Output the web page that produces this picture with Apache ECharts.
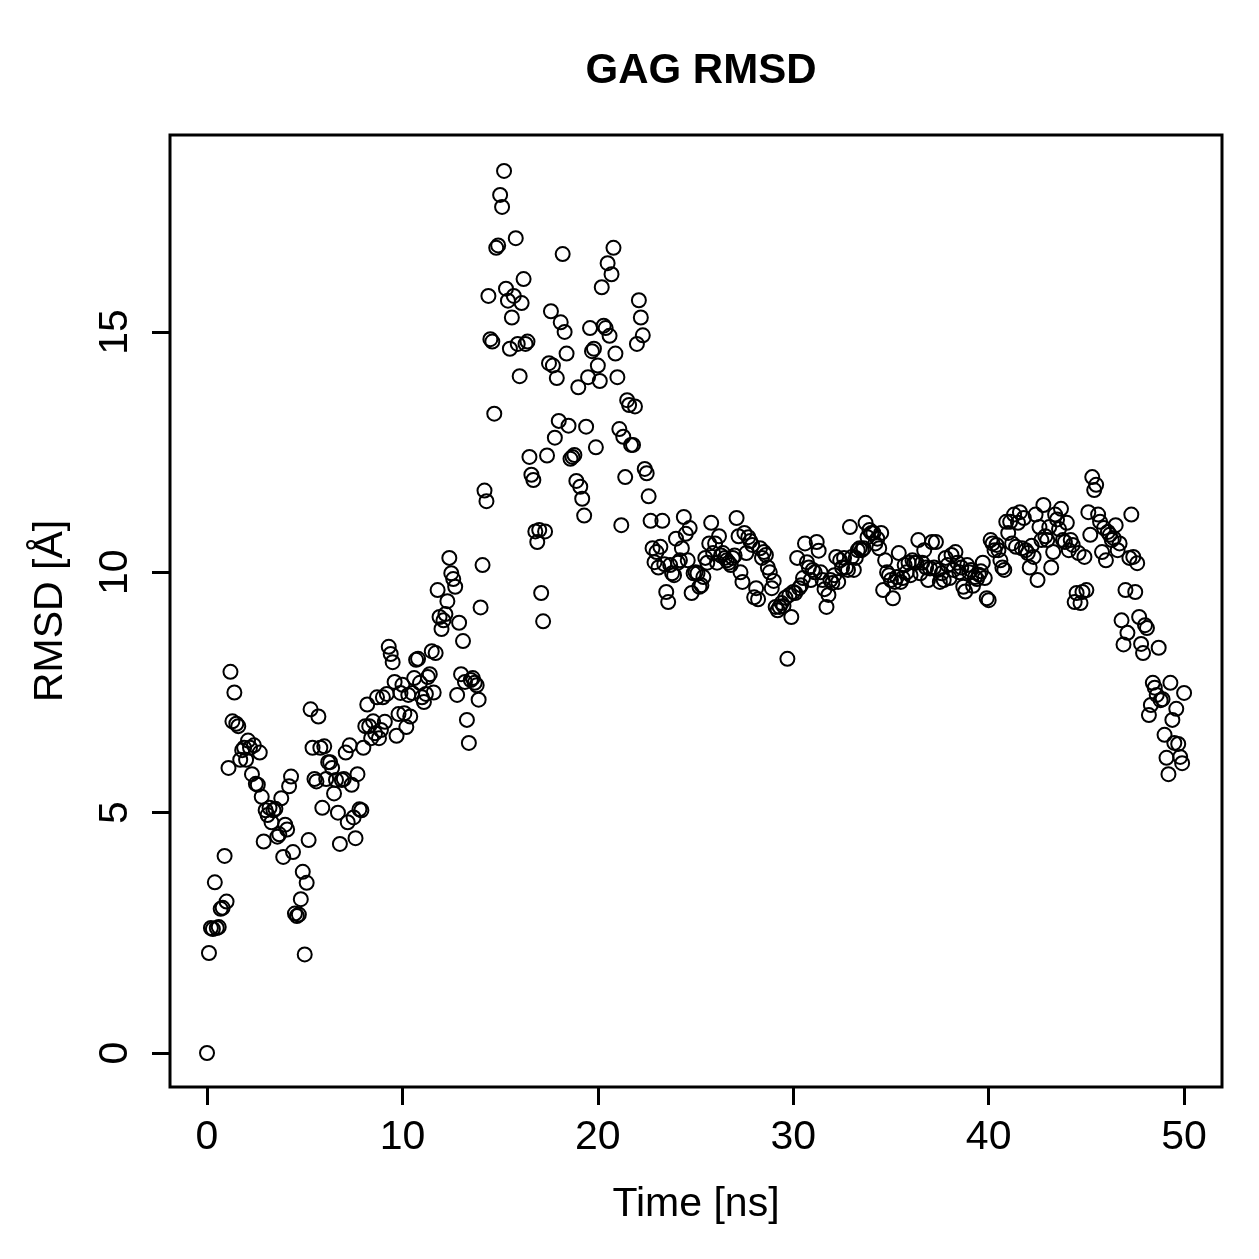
<!DOCTYPE html>
<html>
<head>
<meta charset="utf-8">
<title>GAG RMSD</title>
<script src="https://cdn.jsdelivr.net/npm/echarts@6/dist/echarts.min.js"></script>
<style>
    html, body { margin: 0; padding: 0; background: #fff; }
    #chart { width: 1259px; height: 1259px; }
</style>
</head>
<body>
<div id="chart"></div>
<script>
"use strict";

/** time step between frames (ns) */
var timeStep = 0.1;

/** RMSD [Å], 0 - 9.9 ns */
var rmsd_0_10 = [
    0.0, 2.08, 2.6, 2.58, 3.55, 2.6, 2.62, 3.0, 3.02, 4.1,
    3.15, 5.93, 7.93, 6.9, 7.5, 6.85, 6.8, 6.1, 6.3, 6.35,
    6.1, 6.5, 6.35, 5.8, 6.4, 5.6, 5.58, 6.25, 5.33, 4.4,
    5.05, 4.95, 5.1, 4.8, 5.05, 5.08, 4.5, 4.55, 5.3, 4.08,
    4.75, 4.65, 5.55, 5.75, 4.18, 2.9, 2.85, 2.88, 3.2, 3.77,
    2.05, 3.54, 4.43, 7.15, 6.35, 5.7, 5.65, 7.0, 6.35, 5.1,
    6.38, 5.7, 6.05, 6.05, 5.93, 5.4, 5.68, 5.0, 4.35, 5.68,
    5.7, 6.25, 4.8, 6.4, 5.58, 4.9, 4.47, 5.8, 5.07, 5.05,
    6.35, 6.8, 7.25, 6.8, 6.55, 6.9, 6.65, 7.4, 6.55, 6.72,
    7.4, 6.89, 7.47, 8.45, 8.3, 8.13, 7.72, 6.6, 7.05, 7.49
];

/** RMSD [Å], 10 - 19.9 ns */
var rmsd_10_20 = [
    7.66, 7.07, 6.78, 7.45, 7.0, 7.49, 7.8, 8.18, 8.2, 7.7,
    7.4, 7.3, 7.47, 7.82, 7.88, 8.36, 7.5, 8.32, 9.63, 9.07,
    8.82, 9.0, 9.13, 9.4, 10.3, 9.98, 9.86, 9.7, 7.45, 8.95,
    7.88, 8.57, 7.72, 6.93, 6.45, 7.76, 7.8, 7.7, 7.65, 7.35,
    9.27, 10.15, 11.7, 11.48, 15.75, 14.85, 14.8, 13.3, 16.75, 16.8,
    17.85, 17.6, 18.35, 15.9, 15.65, 14.65, 15.3, 15.75, 16.95, 14.75,
    14.08, 15.6, 16.1, 14.75, 14.8, 12.4, 12.03, 11.92, 10.85, 10.63,
    10.88, 9.57, 8.98, 10.85, 12.43, 14.35, 15.43, 14.3, 12.8, 14.04,
    13.15, 15.2, 16.62, 15.0, 14.55, 13.05, 12.36, 12.4, 12.44, 11.9,
    13.85, 11.78, 11.53, 11.18, 13.03, 14.06, 15.08, 14.6, 14.65, 12.6
];

/** RMSD [Å], 20 - 29.9 ns */
var rmsd_20_30 = [
    14.3, 13.98, 15.93, 15.13, 15.08, 16.43, 14.92, 16.2, 16.75, 14.55,
    14.06, 12.98, 10.98, 12.82, 11.98, 13.58, 13.48, 12.65, 12.65, 13.45,
    14.75, 15.66, 15.3, 14.93, 12.15, 12.06, 11.58, 11.07, 10.5, 10.21,
    10.42, 10.1, 10.53, 11.07, 10.17, 9.59, 9.38, 10.15, 9.98, 9.94,
    10.7, 10.2, 10.25, 10.5, 11.15, 10.8, 10.25, 10.92, 9.57, 9.98,
    10.0, 9.98, 9.7, 9.73, 9.9, 10.3, 10.2, 10.6, 11.03, 10.4,
    10.6, 10.2, 10.75, 10.35, 10.4, 10.3, 10.25, 10.2, 10.15, 10.3,
    10.35, 11.13, 10.75, 10.0, 9.8, 10.82, 10.4, 10.73, 10.65, 10.57,
    9.48, 9.67, 9.44, 10.5, 10.3, 10.42, 10.36, 10.1, 10.0, 9.67,
    9.82, 9.28, 9.21, 9.28, 9.36, 9.3, 9.47, 8.2, 9.53, 9.07
];

/** RMSD [Å], 30 - 39.9 ns */
var rmsd_30_40 = [
    9.59, 9.57, 10.3, 9.67, 9.73, 9.88, 10.6, 10.21, 10.1, 9.84,
    10.05, 10.0, 10.63, 10.45, 10.0, 9.84, 9.65, 9.28, 9.53, 9.84,
    9.78, 9.94, 10.32, 9.8, 10.25, 10.1, 10.3, 10.1, 10.05, 10.94,
    10.32, 10.05, 10.3, 10.46, 10.5, 10.46, 10.5, 11.03, 10.73, 10.88,
    10.82, 10.82, 10.6, 10.7, 10.5, 10.82, 9.63, 10.25, 10.0, 9.94,
    9.84, 9.46, 9.8, 9.9, 10.4, 9.8, 9.88, 10.15, 10.0, 10.2,
    9.94, 10.25, 10.2, 10.2, 10.67, 9.98, 10.2, 10.46, 10.1, 9.84,
    10.08, 10.63, 10.1, 10.63, 10.05, 9.8, 9.98, 9.84, 10.3, 10.15,
    9.88, 10.36, 10.05, 10.42, 10.2, 10.0, 10.1, 9.7, 9.6, 10.15,
    10.0, 10.05, 9.72, 9.9, 9.86, 9.95, 10.02, 10.2, 9.88, 9.46
];

/** RMSD [Å], 40 - 50 ns */
var rmsd_40_50 = [
    9.42, 10.67, 10.6, 10.46, 10.57, 10.46, 10.25, 10.1, 10.05, 11.05,
    10.82, 11.05, 10.6, 11.2, 10.53, 11.03, 11.25, 10.5, 11.13, 10.46,
    10.4, 10.1, 10.55, 10.32, 11.2, 9.84, 10.94, 10.67, 11.4, 10.75,
    10.67, 10.94, 10.1, 10.42, 11.2, 11.1, 10.9, 11.32, 10.67, 10.63,
    11.03, 10.46, 10.67, 10.57, 9.38, 9.57, 10.4, 9.36, 9.59, 10.32,
    9.63, 11.25, 10.78, 11.98, 11.71, 11.82, 11.2, 11.05, 10.42, 10.92,
    10.25, 10.84, 10.78, 10.67, 10.71, 10.98, 10.46, 10.6, 9.0, 8.5,
    9.63, 8.74, 10.3, 11.2, 10.32, 9.59, 10.19, 9.07, 8.51, 8.32,
    8.9, 8.84, 7.03, 7.24, 7.7, 7.6, 7.45, 8.43, 7.34, 7.36,
    6.62, 6.14, 5.8, 7.7, 6.93, 6.45, 7.16, 6.43, 6.16, 6.03,
    7.49
];

/** axis ticks */
var xTicks = [0, 10, 20, 30, 40, 50];
var yTicks = [0, 5, 10, 15];

var rmsd = [].concat(rmsd_0_10, rmsd_10_20, rmsd_20_30, rmsd_30_40, rmsd_40_50);

var FONT = '"Liberation Sans", Arial, Helvetica, sans-serif';

/**
 * [time, rmsd] pairs for the scatter
 */
function buildPoints(values) {
    var pts = [];
    for (var i = 0, len = values.length; i < len; i++) {
        pts.push([+(i * timeStep).toFixed(1), values[i]]);
    }
    return pts;
}

var chart = echarts.init(document.getElementById('chart'), null, {renderer: 'canvas'});

var option = {
    animation: false,
    backgroundColor: '#ffffff',
    title: {
        text: 'GAG RMSD',
        left: 696,
        top: 45,
        textAlign: 'center',
        textStyle: {
            fontFamily: FONT,
            fontSize: 42,
            fontWeight: 'bold',
            color: '#000'
        }
    },
    // plot box, range padded like R (4%)
    grid: {
        left: 170, top: 135, width: 1052, height: 952,
        show: true,
        borderColor: '#000',
        borderWidth: 3,
        backgroundColor: 'transparent'
    },
    xAxis: {
        type: 'value',
        min: -1.894,
        max: 51.94,
        axisLine: {show: false, onZero: false},
        axisTick: {
            show: true,
            customValues: xTicks,
            length: 18,
            lineStyle: {color: '#000', width: 3}
        },
        axisLabel: {
            customValues: xTicks,
            margin: 30,
            fontFamily: FONT,
            fontSize: 41,
            color: '#000'
        },
        splitLine: {show: false},
        name: 'Time [ns]',
        nameLocation: 'middle',
        nameGap: 97,
        nameTextStyle: {fontFamily: FONT, fontSize: 41, color: '#000'}
    },
    yAxis: {
        type: 'value',
        min: -0.707,
        max: 19.097,
        axisLine: {show: false, onZero: false},
        axisTick: {
            show: true,
            customValues: yTicks,
            length: 18,
            lineStyle: {color: '#000', width: 3}
        },
        axisLabel: {
            customValues: yTicks,
            rotate: 90,
            margin: 34,
            fontFamily: FONT,
            fontSize: 41,
            color: '#000'
        },
        splitLine: {show: false},
        name: 'RMSD [Å]',
        nameLocation: 'middle',
        nameRotate: 90,
        nameGap: 99,
        nameTextStyle: {fontFamily: FONT, fontSize: 41, color: '#000'}
    },
    series: [
        {
            name: 'RMSD',
            type: 'scatter',
            symbol: 'circle',
            symbolSize: 14,
            itemStyle: {
                color: 'rgba(0,0,0,0)',
                borderColor: '#000',
                borderWidth: 2,
                opacity: 1
            },
            emphasis: {disabled: true},
            data: buildPoints(rmsd)
        }
    ]
};

chart.setOption(option);
</script>
</body>
</html>
